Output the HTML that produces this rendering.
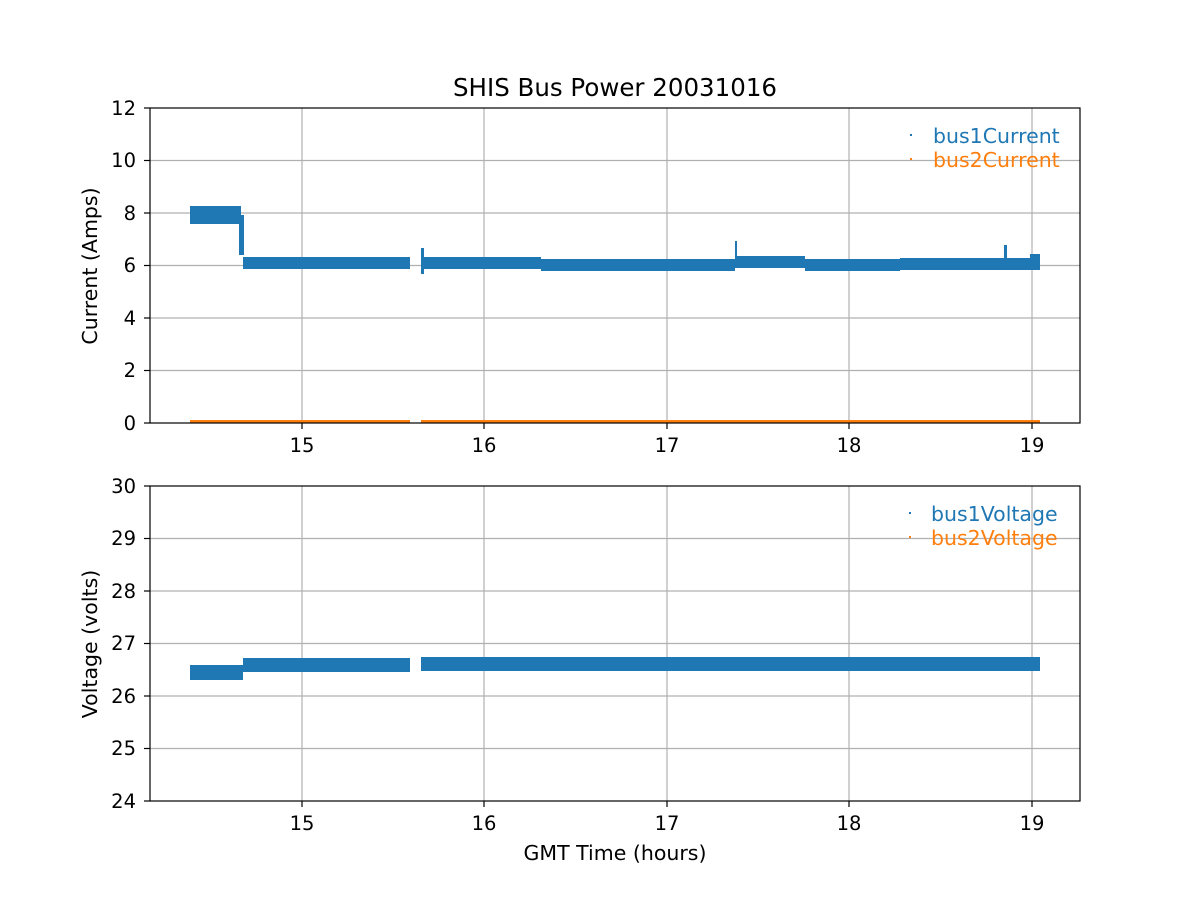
<!DOCTYPE html>
<html><head><meta charset="utf-8"><style>body{margin:0;background:#fff}svg{display:block}text{font-family:"DejaVu Sans","Liberation Sans",sans-serif;}</style></head><body>
<svg width="1200" height="900" xmlns="http://www.w3.org/2000/svg">
<rect width="1200" height="900" fill="#fff"/>
<g stroke="#b0b0b0" stroke-width="1.2">
<line x1="302" y1="108" x2="302" y2="423"/><line x1="484" y1="108" x2="484" y2="423"/><line x1="667" y1="108" x2="667" y2="423"/><line x1="849" y1="108" x2="849" y2="423"/><line x1="1032" y1="108" x2="1032" y2="423"/>
<line x1="150" y1="160.5" x2="1080" y2="160.5"/><line x1="150" y1="213" x2="1080" y2="213"/><line x1="150" y1="265.5" x2="1080" y2="265.5"/><line x1="150" y1="318" x2="1080" y2="318"/><line x1="150" y1="370.5" x2="1080" y2="370.5"/>
<line x1="302" y1="486" x2="302" y2="801"/><line x1="484" y1="486" x2="484" y2="801"/><line x1="667" y1="486" x2="667" y2="801"/><line x1="849" y1="486" x2="849" y2="801"/><line x1="1032" y1="486" x2="1032" y2="801"/>
<line x1="150" y1="538.5" x2="1080" y2="538.5"/><line x1="150" y1="591" x2="1080" y2="591"/><line x1="150" y1="643.5" x2="1080" y2="643.5"/><line x1="150" y1="696" x2="1080" y2="696"/><line x1="150" y1="748.5" x2="1080" y2="748.5"/>
</g>
<g fill="#1f77b4">
<rect x="190" y="206" width="51" height="18"/>
<rect x="239" y="215" width="5" height="40"/>
<rect x="243" y="257" width="167" height="12"/>
<rect x="421" y="257" width="120" height="12"/>
<rect x="421" y="248" width="3" height="26"/>
<rect x="541" y="259" width="194" height="12"/>
<rect x="735" y="256" width="70" height="12"/>
<rect x="735" y="241" width="2" height="22"/>
<rect x="805" y="259" width="95" height="12"/>
<rect x="900" y="258" width="140" height="12"/>
<rect x="1004" y="245" width="3" height="14"/>
<rect x="1030" y="254" width="10" height="16"/>
</g>
<g fill="#ff7f0e">
<rect x="190" y="420" width="220" height="3"/>
<rect x="421" y="420" width="619" height="3"/>
</g>
<g fill="#1f77b4">
<rect x="190" y="665" width="53" height="15"/>
<rect x="243" y="658" width="167" height="14"/>
<rect x="421" y="657" width="619" height="14"/>
</g>
<g fill="none" stroke="#000" stroke-width="1.2">
<rect x="150" y="108" width="930" height="315"/>
<rect x="150" y="486" width="930" height="315"/>
</g>
<g stroke="#000" stroke-width="1.2">
<line x1="302" y1="423" x2="302" y2="429"/><line x1="484" y1="423" x2="484" y2="429"/><line x1="667" y1="423" x2="667" y2="429"/><line x1="849" y1="423" x2="849" y2="429"/><line x1="1032" y1="423" x2="1032" y2="429"/>
<line x1="302" y1="801" x2="302" y2="807"/><line x1="484" y1="801" x2="484" y2="807"/><line x1="667" y1="801" x2="667" y2="807"/><line x1="849" y1="801" x2="849" y2="807"/><line x1="1032" y1="801" x2="1032" y2="807"/>
<line x1="144" y1="108" x2="150" y2="108"/><line x1="144" y1="160.5" x2="150" y2="160.5"/><line x1="144" y1="213" x2="150" y2="213"/><line x1="144" y1="265.5" x2="150" y2="265.5"/><line x1="144" y1="318" x2="150" y2="318"/><line x1="144" y1="370.5" x2="150" y2="370.5"/><line x1="144" y1="423" x2="150" y2="423"/>
<line x1="144" y1="486" x2="150" y2="486"/><line x1="144" y1="538.5" x2="150" y2="538.5"/><line x1="144" y1="591" x2="150" y2="591"/><line x1="144" y1="643.5" x2="150" y2="643.5"/><line x1="144" y1="696" x2="150" y2="696"/><line x1="144" y1="748.5" x2="150" y2="748.5"/><line x1="144" y1="801" x2="150" y2="801"/>
</g>
<g font-size="19.5" fill="#000" text-anchor="middle">
<text x="302" y="452">15</text><text x="484" y="452">16</text><text x="667" y="452">17</text><text x="849" y="452">18</text><text x="1032" y="452">19</text>
<text x="302" y="830">15</text><text x="484" y="830">16</text><text x="667" y="830">17</text><text x="849" y="830">18</text><text x="1032" y="830">19</text>
</g>
<g font-size="19.5" fill="#000" text-anchor="end">
<text x="136" y="115">12</text><text x="136" y="167">10</text><text x="136" y="220">8</text><text x="136" y="272">6</text><text x="136" y="325">4</text><text x="136" y="377">2</text><text x="136" y="430">0</text>
<text x="136" y="493">30</text><text x="136" y="545">29</text><text x="136" y="598">28</text><text x="136" y="650">27</text><text x="136" y="703">26</text><text x="136" y="755">25</text><text x="136" y="808">24</text>
</g>
<text x="615" y="96" font-size="24.5" text-anchor="middle">SHIS Bus Power 20031016</text>
<text x="615" y="860" font-size="20.5" text-anchor="middle">GMT Time (hours)</text>
<text transform="translate(97,266) rotate(-90)" font-size="20.5" text-anchor="middle">Current (Amps)</text>
<text transform="translate(97,644) rotate(-90)" font-size="20.5" text-anchor="middle">Voltage (volts)</text>
<rect x="910" y="134" width="2" height="2" fill="#1f77b4"/>
<text x="933" y="143" font-size="20.5" fill="#1f77b4">bus1Current</text>
<rect x="910" y="158" width="2" height="2" fill="#ff7f0e"/>
<text x="933" y="167" font-size="20.5" fill="#ff7f0e">bus2Current</text>
<rect x="909" y="512" width="2" height="2" fill="#1f77b4"/>
<text x="931" y="521" font-size="20.5" fill="#1f77b4">bus1Voltage</text>
<rect x="909" y="536" width="2" height="2" fill="#ff7f0e"/>
<text x="931" y="545" font-size="20.5" fill="#ff7f0e">bus2Voltage</text>
</svg>
</body></html>
